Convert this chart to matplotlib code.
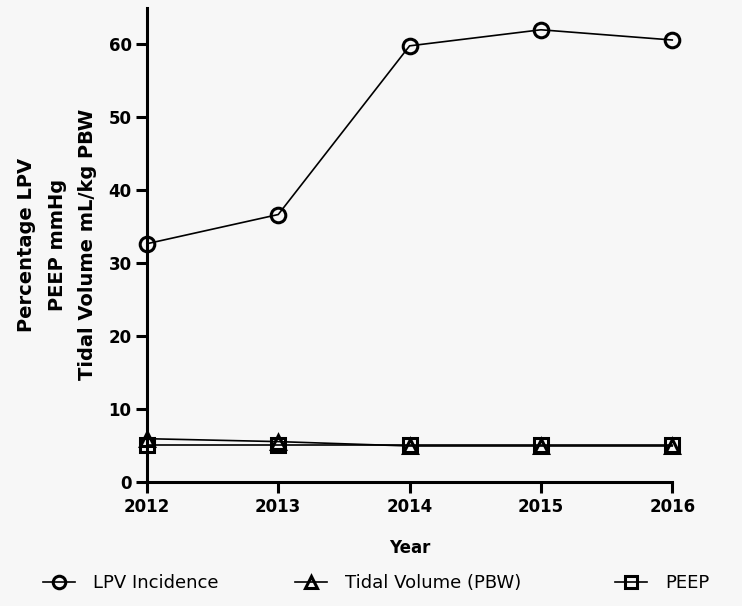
import matplotlib
matplotlib.use("Agg")
import matplotlib.pyplot as plt
from matplotlib.lines import Line2D

years = [2012, 2013, 2014, 2015, 2016]
lpv_incidence = [32.6, 36.6, 59.7, 61.9, 60.5]
tidal_volume = [5.9, 5.5, 4.9, 4.9, 4.9]
peep = [5.0, 5.0, 5.0, 5.0, 5.0]

series_names = ['LPV Incidence', 'Tidal Volume (PBW)', 'PEEP']
series_markers = ['o', '^', 's']

plt.rcParams['font.family'] = ['DejaVu Sans']
bg = '#f7f7f7'

fig = plt.figure(figsize=(7.42, 6.06), dpi=100, facecolor=bg)
ax = fig.add_axes([0.198, 0.205, 0.708, 0.782], facecolor=bg)

style = dict(color='black', lw=1.2, markersize=10.5, markerfacecolor='none',
             markeredgecolor='black', markeredgewidth=2.2, clip_on=False)
for vals, name, mk in zip([lpv_incidence, tidal_volume, peep], series_names, series_markers):
    ax.plot(years, vals, marker=mk, label=name, zorder=3, **style)

ax.set_xlim(2012, 2016)
ax.set_ylim(0, 64.9)
ax.set_xticks(years)
ax.set_yticks(range(0, 61, 10))
for s in ['top', 'right']:
    ax.spines[s].set_visible(False)
for s in ['left', 'bottom']:
    ax.spines[s].set_linewidth(2.2)
ax.tick_params(width=2.2, length=8, labelsize=12, pad=4)
ax.tick_params(axis='y', pad=3)
for lbl in ax.get_xticklabels() + ax.get_yticklabels():
    lbl.set_fontweight('bold')

ax.set_xlabel('Year', fontsize=12, fontweight='bold', labelpad=16)
ax.set_ylabel('Percentage LPV\nPEEP mmHg\nTidal Volume mL/kg PBW',
              fontsize=14, fontweight='bold', labelpad=8, linespacing=1.78)

# one legend box per entry, spread across the bottom like the original
entry_x = [0.058, 0.398, 0.829]
for name, mk, x in zip(series_names, series_markers, entry_x):
    h = Line2D([], [], color='black', lw=1.2, marker=mk, markersize=9,
               markerfacecolor='none', markeredgecolor='black', markeredgewidth=2.2)
    fig.legend([h], [name], loc='center left', bbox_to_anchor=(x, 0.038),
               frameon=False, fontsize=13, handlelength=1.75, handletextpad=1.0,
               borderpad=0, borderaxespad=0)

fig.savefig('out.png', dpi=100, facecolor=bg)
